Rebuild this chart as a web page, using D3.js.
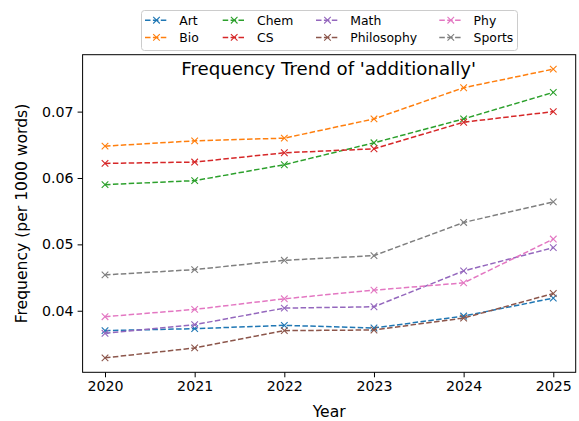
<!DOCTYPE html>
<html>
<head>
<meta charset="utf-8">
<script src="https://cdn.jsdelivr.net/npm/d3@7"></script>
<style>
  html, body { margin: 0; padding: 0; background: #fff; }
  svg { display: block; font-family: "DejaVu Sans", sans-serif; }
</style>
</head>
<body>
<svg id="chart" width="579" height="421"></svg>
<script>
const years = [2020, 2021, 2022, 2023, 2024, 2025];
const seriesNames = ["Art", "Bio", "Chem", "CS", "Math", "Philosophy", "Phy", "Sports"];
const artValues = [0.0370, 0.0373, 0.0378, 0.0374, 0.0392, 0.0419];
const bioValues = [0.0648, 0.0656, 0.0660, 0.0689, 0.0736, 0.0764];
const chemValues = [0.0590, 0.0596, 0.0620, 0.0653, 0.0689, 0.0729];
const csValues = [0.0622, 0.0624, 0.0638, 0.0644, 0.0684, 0.0700];
const mathValues = [0.0366, 0.0379, 0.0404, 0.0406, 0.0460, 0.0495];
const philosophyValues = [0.0329, 0.0344, 0.0370, 0.0371, 0.0389, 0.0426];
const phyValues = [0.0391, 0.0402, 0.0418, 0.0431, 0.0442, 0.0508];
const sportsValues = [0.0454, 0.0462, 0.0476, 0.0483, 0.0533, 0.0564];
const yTicks = [0.04, 0.05, 0.06, 0.07];
const colors = ["#1f77b4", "#ff7f0e", "#2ca02c", "#d62728", "#9467bd", "#8c564b", "#e377c2", "#7f7f7f"];

const seriesValues = [artValues, bioValues, chemValues, csValues, mathValues, philosophyValues, phyValues, sportsValues];
const series = seriesNames.map((n, i) => ({ name: n, values: seriesValues[i], color: colors[i] }));

const svg = d3.select("#chart");
const plot = { left: 82.6, right: 575.7, top: 54.7, bottom: 372.3 };

// matplotlib-style 5% margins
const allVals = seriesValues.flat();
const vmin = d3.min(allVals), vmax = d3.max(allVals);
const pad = (vmax - vmin) * 0.05;
const x = d3.scaleLinear().domain([2019.75, 2025.25]).range([plot.left, plot.right]);
const y = d3.scaleLinear().domain([vmin - pad, vmax + pad]).range([plot.bottom, plot.top]);

// axes
const xAxis = d3.axisBottom(x).tickValues(years).tickFormat(d3.format("d")).tickSize(5).tickPadding(4);
const yAxis = d3.axisLeft(y).tickValues(yTicks).tickFormat(d3.format(".2f")).tickSize(5).tickPadding(4);

const gx = svg.append("g").attr("transform", `translate(0,${plot.bottom})`).call(xAxis);
const gy = svg.append("g").attr("transform", `translate(${plot.left},0)`).call(yAxis);
[gx, gy].forEach(g => {
  g.select(".domain").remove();
  g.selectAll("line").attr("stroke", "#000").attr("stroke-width", 1);
  g.selectAll("text").attr("fill", "#000").style("font-size", "14.2px").style("font-family", "DejaVu Sans, sans-serif");
});

// frame
svg.append("rect")
  .attr("x", plot.left).attr("y", plot.top)
  .attr("width", plot.right - plot.left).attr("height", plot.bottom - plot.top)
  .attr("fill", "none").attr("stroke", "#000").attr("stroke-width", 1);

// lines
const line = d3.line().x((d, i) => x(years[i])).y(d => y(d));
const ms = 3.3;
series.forEach(s => {
  const g = svg.append("g");
  g.append("path").datum(s.values)
    .attr("d", line).attr("fill", "none")
    .attr("stroke", s.color).attr("stroke-width", 1.5)
    .attr("stroke-dasharray", "5.5,2.4");
  g.selectAll("path.m").data(s.values).enter().append("path")
    .attr("class", "m")
    .attr("d", (d, i) => {
      const cx = x(years[i]), cy = y(d);
      return `M${cx - ms},${cy - ms}L${cx + ms},${cy + ms}M${cx - ms},${cy + ms}L${cx + ms},${cy - ms}`;
    })
    .attr("stroke", s.color).attr("stroke-width", 1.1).attr("fill", "none");
});

// title
svg.append("text")
  .attr("x", (plot.left + plot.right) / 2 - 0.5).attr("y", 74.5)
  .attr("text-anchor", "middle")
  .style("font-size", "18.2px").attr("fill", "#000")
  .text("Frequency Trend of 'additionally'");

// axis labels
svg.append("text")
  .attr("x", (plot.left + plot.right) / 2).attr("y", 417)
  .attr("text-anchor", "middle").style("font-size", "15.6px").attr("fill", "#000")
  .text("Year");
svg.append("text")
  .attr("transform", `translate(26.5,${(plot.top + plot.bottom) / 2}) rotate(-90)`)
  .attr("text-anchor", "middle").style("font-size", "15.6px").attr("fill", "#000")
  .text("Frequency (per 1000 words)");

// legend
const legend = svg.append("g");
legend.append("rect")
  .attr("x", 141.5).attr("y", 10.5).attr("width", 376).attr("height", 40)
  .attr("rx", 3).attr("fill", "#fff").attr("fill-opacity", 0.8)
  .attr("stroke", "#cccccc").attr("stroke-width", 1);
const colX = [145, 222.7, 316, 439.3];
const rowY = [20.2, 37.4];
series.forEach((s, i) => {
  const c = Math.floor(i / 2), r = i % 2;
  const lx = colX[c], ly = rowY[r];
  const g = legend.append("g");
  g.append("line")
    .attr("x1", lx).attr("x2", lx + 23).attr("y1", ly).attr("y2", ly)
    .attr("stroke", s.color).attr("stroke-width", 1.5).attr("stroke-dasharray", "5.5,2.4");
  const cx = lx + 11.5;
  g.append("path")
    .attr("d", `M${cx - ms},${ly - ms}L${cx + ms},${ly + ms}M${cx - ms},${ly + ms}L${cx + ms},${ly - ms}`)
    .attr("stroke", s.color).attr("stroke-width", 1.1);
  g.append("text")
    .attr("x", lx + 34.3).attr("y", ly + 4.5)
    .style("font-size", "12.4px").attr("fill", "#000")
    .text(s.name);
});
</script>
</body>
</html>
